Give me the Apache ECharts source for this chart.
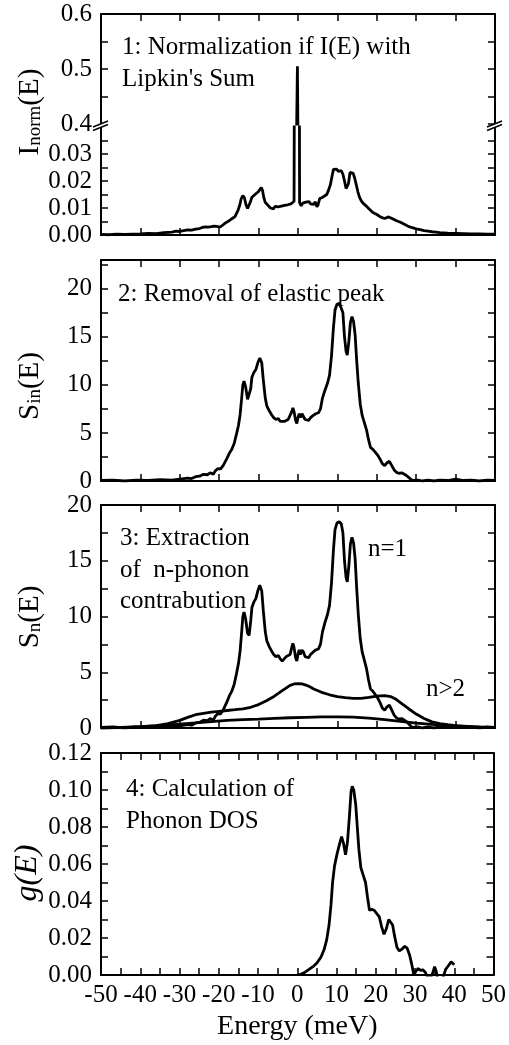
<!DOCTYPE html>
<html><head><meta charset="utf-8">
<script src="https://cdn.jsdelivr.net/npm/echarts@6/dist/echarts.min.js"></script>
<style>html,body{margin:0;padding:0;background:#fff}#c{width:509px;height:1045px}</style>
</head><body><div id="c"></div>
<script>
// ---------------- data ----------------
// Panel 1: normalized intensity I_norm(E)
const inormE = [-50,-48,-46,-44,-42,-40,-38,-36,-34,-32,-31,-30,-29,-28,-27,-26,-25,-24.2,-23.5,-22.8,-22,-21.3,-20.8,-20.3,-19.7,-19,-18.4,-17.8,-17.2,-16.6,-16,-15.6,-15.2,-14.8,-14.4,-14,-13.6,-13.2,-12.8,-12.5,-12.1,-11.7,-11.3,-10.9,-10.5,-10.1,-9.7,-9.3,-9,-8.7,-8.3,-7.9,-7.5,-7,-6.6,-6.2,-5.8,-5.4,-5,-4.6,-4.2,-3.8,-3.4,-3,-2.6,-2.2,-1.8,-1.4,-1,-0.8,-0.15,0.15,0.4,0.8,1.2,1.6,2,2.4,2.8,3.2,3.6,4,4.4,4.8,5.1,5.5,5.9,6.3,6.8,7.3,7.8,8.2,8.6,9,9.4,9.8,10.2,10.6,11,11.4,11.8,12.2,12.5,12.8,13.2,13.6,14,14.4,14.8,15.2,15.6,16,16.5,17,17.5,18,18.5,19,19.5,20,20.5,21,21.5,22,22.5,23,23.5,24,24.5,25,26,27,28,29,30,31,32,33,34,35,36,38,40,42,44,46,48,50];
const inormV = [0.0002,0.0001,0.0003,0.0002,0.0003,0.0004,0.0006,0.0005,0.0009,0.0011,0.0014,0.0013,0.0016,0.0019,0.0018,0.0022,0.0024,0.0028,0.0030,0.0029,0.0031,0.0033,0.0040,0.0031,0.0030,0.0038,0.0045,0.0050,0.0056,0.0062,0.0068,0.0080,0.0092,0.0110,0.0135,0.0146,0.0138,0.0112,0.0098,0.0094,0.0122,0.0140,0.0144,0.0150,0.0148,0.0160,0.0168,0.0176,0.0165,0.0140,0.0120,0.0113,0.0108,0.0100,0.0103,0.0097,0.0106,0.0100,0.0104,0.0098,0.0107,0.0103,0.0110,0.0105,0.0112,0.0108,0.0115,0.0112,0.0125,0.0130,0.505,0.505,0.0120,0.0108,0.0118,0.0112,0.0122,0.0116,0.0124,0.0115,0.0121,0.0113,0.0123,0.0104,0.0112,0.0135,0.0131,0.0140,0.0143,0.0150,0.0168,0.0185,0.0215,0.0243,0.0238,0.0244,0.0236,0.0242,0.0238,0.0225,0.0200,0.0172,0.0165,0.0190,0.0232,0.0236,0.0228,0.0210,0.0185,0.0160,0.0140,0.0128,0.0118,0.0112,0.0105,0.0097,0.0092,0.0083,0.0078,0.0076,0.0072,0.0066,0.0064,0.0061,0.0063,0.0067,0.0066,0.0060,0.0056,0.0053,0.0047,0.0040,0.0032,0.0027,0.0023,0.0020,0.0016,0.0014,0.0012,0.0011,0.0009,0.0007,0.0006,0.0005,0.0004,0.0004,0.0003,0.0003];

// Panels 2 & 3: inelastic spectrum S_in(E) (= one-phonon n=1 curve)
const sinE = [-50,-47,-44,-41,-38,-35,-32,-30,-28,-27,-26,-25,-24,-23,-22.3,-21.5,-21,-20.3,-19.7,-19,-18.1,-17.4,-16.8,-16.2,-15.6,-15.1,-14.7,-14.3,-14,-13.7,-13.3,-12.8,-12.4,-12,-11.7,-11.2,-10.7,-10.2,-9.7,-9.2,-8.8,-8.3,-7.9,-7.3,-6.7,-6.2,-5.6,-5,-4.5,-4,-3.5,-3,-2.5,-2,-1.6,-1.3,-1,-0.6,-0.3,0,0.3,0.6,1,1.4,1.8,2.2,2.7,3.2,3.8,4.5,5.2,5.7,6.2,6.8,7.5,8,8.5,9,9.4,9.9,10.5,11,11.4,11.8,12.2,12.5,12.9,13.3,13.7,14.1,14.5,14.9,15.3,15.8,16.3,16.9,17.4,17.9,18.4,19,19.6,20.2,20.8,21.4,22,22.6,23.2,23.8,24.4,25,25.6,26.3,27,27.6,28.3,29,29.5,30.5,31.5,33,34.5,36,38,40,42,44,46,48,50];
const sinV = [0.05,0.1,0,0.1,0.05,0.15,0.1,0.2,0.3,0.25,0.45,0.5,0.7,0.65,0.85,0.7,1.05,1.3,1.25,1.6,2.3,2.9,3.3,3.9,4.9,5.8,6.9,8.6,10,10.4,9.8,8.5,8.3,9.6,10.8,11.3,11.6,12.3,12.8,12.3,10.5,8.6,7.8,7.3,6.9,6.6,6.4,6.5,6.2,6,6.2,6.4,6.4,6.6,7.2,7.6,7.2,6.3,6,6.6,7,6.6,7,6.8,6.4,6.5,6.3,6.6,6.8,7,7.1,7.5,8.6,9.4,10.2,11,13,16,17.8,18.4,18.5,18.3,17.5,15,13.5,13.1,14.5,16.5,17.1,16.6,15.2,12.5,10.2,8,6.8,6,5.3,4.3,3.5,3.3,3,2.7,2.3,1.8,1.6,1.9,2.05,1.6,1.15,0.9,0.8,0.85,0.7,0.55,0.3,0.05,0,0.1,0,0.1,0,0.1,0.05,0.2,0.05,0.1,0,0.1,0.05];

// Panel 3: multi-phonon contributions
const twoPhE = [-50,-45,-40,-36,-33,-30,-28,-26,-24,-22,-20,-18,-16,-14,-12,-10,-8,-6,-4,-2,-1,0,1,2,3,4,6,8,10,12,14,16,18,20,22,23.5,25,26.5,28,30,32,34,36,38,40,44,50];
const twoPhV = [0,0.05,0.12,0.22,0.4,0.68,0.95,1.19,1.32,1.42,1.5,1.57,1.64,1.72,1.86,2.1,2.45,2.85,3.35,3.82,3.95,3.98,3.95,3.85,3.7,3.5,3.2,2.98,2.82,2.72,2.65,2.66,2.75,2.86,2.9,2.82,2.55,2.15,1.75,1.25,0.85,0.55,0.4,0.3,0.22,0.12,0.04];
const multiPhE = [-50,-45,-40,-35,-30,-26,-22,-18,-14,-10,-6,-2,2,6,10,14,18,22,26,30,34,38,42,46,50];
const multiPhV = [0,0.04,0.1,0.22,0.35,0.46,0.58,0.68,0.75,0.8,0.86,0.92,0.96,0.99,1,0.98,0.88,0.75,0.6,0.44,0.32,0.22,0.14,0.08,0.04];

// Panel 4: phonon DOS g(E)
const gE = [0,1,2,3,4,5,6,6.8,7.5,8.1,8.6,9,9.5,10.2,10.8,11.3,11.8,12.3,12.8,13.3,13.7,14,14.4,14.9,15.3,15.7,16.2,16.8,17.4,17.9,18.4,19,19.6,20.3,20.9,21.5,22.1,22.7,23.3,23.8,24.3,24.8,25.4,26,26.7,27.4,28,28.6,29.2,29.7,30.2,30.8,31.4,32,32.6,33.2,33.8,34.5,35,35.4,35.8,36.5,37.2,37.8,38.5,39.2,39.7,40];
const gV = [0,0.0005,0.0015,0.003,0.0045,0.0065,0.0095,0.0135,0.019,0.027,0.038,0.05,0.059,0.066,0.071,0.0748,0.071,0.065,0.072,0.086,0.099,0.102,0.1,0.092,0.08,0.068,0.058,0.054,0.05,0.042,0.035,0.0355,0.035,0.033,0.0315,0.026,0.022,0.025,0.03,0.031,0.027,0.021,0.015,0.013,0.014,0.0155,0.0145,0.011,0.0055,0,0.002,0.0035,0.0025,0.0028,0.0015,-0.001,-0.002,0.001,0.0045,0.002,-0.003,-0.004,-0.001,0.003,0.005,0.0072,0.0068,0.0055];

// tick / label values
const xLabels = [-50,-40,-30,-20,-10,0,10,20,30,40,50];
const xTicks10 = [-50,-40,-30,-20,-10,0,10,20,30,40,50];
const xTicks5 = [-50,-45,-40,-35,-30,-25,-20,-15,-10,-5,0,5,10,15,20,25,30,35,40,45,50];
const yTicksIlow = [0,0.005,0.01,0.015,0.02,0.025,0.03,0.035];
const yTicksIup = [0.4,0.45,0.5,0.55,0.6];
const yTicksSin = [0,2.5,5,7.5,10,12.5,15,17.5,20,22.5];
const yTicksSn = [0,2.5,5,7.5,10,12.5,15,17.5,20];
const yTicksG = [0,0.01,0.02,0.03,0.04,0.05,0.06,0.07,0.08,0.09,0.1,0.11,0.12];

// ---------------- chart ----------------
const FF = '"Liberation Serif", "Times New Roman", serif';
const zip = (xs, ys) => xs.map((x, i) => [x, ys[i]]);
const LINE = {color: '#000', width: 2};
const TICK = {color: '#000', width: 1.5};
const TICKFONT = 25;

function xAxis(g, pos, ticks, showLabels, extra) {
  return Object.assign({
    type: 'value', gridIndex: g, position: pos, min: -50, max: 50, interval: 10,
    axisLine: {show: true, onZero: false, lineStyle: LINE},
    axisTick: {show: true, inside: true, length: 7, customValues: ticks, lineStyle: TICK},
    axisLabel: showLabels ? {show: true, customValues: xLabels, color: '#000', fontFamily: FF, fontSize: TICKFONT, margin: 8} : {show: false},
    splitLine: {show: false}
  }, extra || {});
}
function yAxis(g, pos, min, max, interval, ticks, showLabels, digits, hideMax) {
  return {
    type: 'value', gridIndex: g, position: pos, min: min, max: max, interval: interval,
    axisLine: {show: true, onZero: false, lineStyle: LINE},
    axisTick: {show: true, inside: true, length: 7, customValues: ticks, lineStyle: TICK},
    axisLabel: showLabels ? {show: true, color: '#000', fontFamily: FF, fontSize: TICKFONT, margin: 9,
      showMaxLabel: !hideMax, formatter: v => v.toFixed(digits)} : {show: false},
    splitLine: {show: false}
  };
}

const grids = [
  {left: 101, right: 14, top: 14, height: 110},
  {left: 101, right: 14, top: 127, height: 108},
  {left: 101, right: 14, top: 260, height: 221},
  {left: 101, right: 14, top: 505, height: 223},
  {left: 101, right: 14, top: 753, height: 222}
];

const xAxes = [
  xAxis(0, 'top', xTicks10, false),            // 0
  xAxis(1, 'bottom', xTicks10, false),         // 1
  xAxis(2, 'bottom', xTicks10, false),         // 2
  xAxis(2, 'top', xTicks10, false),            // 3
  xAxis(3, 'bottom', xTicks10, false),         // 4
  xAxis(3, 'top', xTicks10, false),            // 5
  xAxis(4, 'bottom', xTicks5, true, {name: 'Energy (meV)', nameLocation: 'middle', nameGap: 38,
    nameTextStyle: {color: '#000', fontFamily: FF, fontSize: 28}}), // 6
  xAxis(4, 'top', xTicks5, false)              // 7
];
const yAxes = [
  yAxis(0, 'left', 0.4, 0.6, 0.1, yTicksIup, true, 1, false),     // 0
  yAxis(0, 'right', 0.4, 0.6, 0.1, yTicksIup, false),             // 1
  yAxis(1, 'left', 0, 0.04, 0.01, yTicksIlow, true, 2, true),     // 2
  yAxis(1, 'right', 0, 0.04, 0.01, yTicksIlow, false),            // 3
  yAxis(2, 'left', 0, 23, 5, yTicksSin, true, 0, true),           // 4
  yAxis(2, 'right', 0, 23, 5, yTicksSin, false),                  // 5
  yAxis(3, 'left', 0, 20, 5, yTicksSn, true, 0, false),           // 6
  yAxis(3, 'right', 0, 20, 5, yTicksSn, false),                   // 7
  yAxis(4, 'left', 0, 0.12, 0.02, yTicksG, true, 2, false),       // 8
  yAxis(4, 'right', 0, 0.12, 0.02, yTicksG, false)                // 9
];

function line(name, data, xi, yi) {
  return {type: 'line', name: name, data: data, xAxisIndex: xi, yAxisIndex: yi,
    showSymbol: false, symbol: 'none', clip: true, smooth: false,
    lineStyle: {color: '#000', width: 2.8}, emphasis: {disabled: true}};
}

const series = [
  line('I_norm (upper)', zip(inormE, inormV), 0, 0),
  line('I_norm', zip(inormE, inormV), 1, 2),
  line('S_in', zip(sinE, sinV), 2, 4),
  line('n=1', zip(sinE, sinV), 4, 6),
  line('two-phonon', zip(twoPhE, twoPhV), 4, 6),
  line('multi-phonon', zip(multiPhE, multiPhV), 4, 6),
  line('g(E)', zip(gE, gV), 6, 8)
];

const TXT = {fill: '#000', font: '25px ' + FF, lineHeight: 31.5, textAlign: 'left', textVerticalAlign: 'top', align: 'left', verticalAlign: 'top'};
function label(x, y, text) {
  return {type: 'text', x: x, y: y, z: 100, style: Object.assign({text: text}, TXT)};
}
function yName(x, y, text, italic, mainSize, subSize, subPad) {
  return {type: 'text', x: x, y: y, rotation: Math.PI / 2, z: 100,
    style: {text: text, fill: '#000', textAlign: 'center', textVerticalAlign: 'middle', align: 'center', verticalAlign: 'middle',
      rich: {
        m: {fontSize: mainSize, fontFamily: FF, fontStyle: italic ? 'italic' : 'normal', lineHeight: mainSize, verticalAlign: 'top', fill: '#000'},
        s: {fontSize: subSize, fontFamily: FF, lineHeight: subSize, verticalAlign: 'bottom', padding: [subPad, 0, 0, 0], fill: '#000'}
      }}};
}
function slash(x1, y1, x2, y2) {
  return {type: 'line', z: 101, shape: {x1: x1, y1: y1, x2: x2, y2: y2}, style: {stroke: '#000', lineWidth: 1.5}};
}
function gapFill(pts) {
  return {type: 'polygon', z: 100, shape: {points: pts}, style: {fill: '#fff'}};
}

const graphic = [
  label(122, 32, "1: Normalization if I(E) with\nLipkin's Sum"),
  label(118, 279, '2: Removal of elastic peak'),
  label(120, 523, '3: Extraction\nof  n-phonon\ncontrabution'),
  label(368, 534, 'n=1'),
  label(426, 674, 'n>2'),
  label(126, 774, '4: Calculation of\nPhonon DOS'),
  yName(30, 112, '{m|I}{s|norm}{m|(E)}', false, 29, 19, 22),
  yName(30, 386, '{m|S}{s|in}{m|(E)}', false, 29, 19, 18),
  yName(30, 617, '{m|S}{s|n}{m|(E)}', false, 29, 19, 18),
  yName(28, 873, '{m|g(E)}', true, 32, 19, 0),
  gapFill([[93, 127], [108, 121], [108, 124.5], [93, 130.5]]),
  slash(93, 127, 108, 121),
  slash(93, 130.5, 108, 124.5),
  gapFill([[487, 127], [502, 121], [502, 124.5], [487, 130.5]]),
  slash(487, 127, 502, 121),
  slash(487, 130.5, 502, 124.5)
];

const chart = echarts.init(document.getElementById('c'), null, {renderer: 'canvas'});
chart.setOption({
  animation: false,
  backgroundColor: '#fff',
  grid: grids,
  xAxis: xAxes,
  yAxis: yAxes,
  series: series,
  graphic: graphic
});
</script>
</body></html>
